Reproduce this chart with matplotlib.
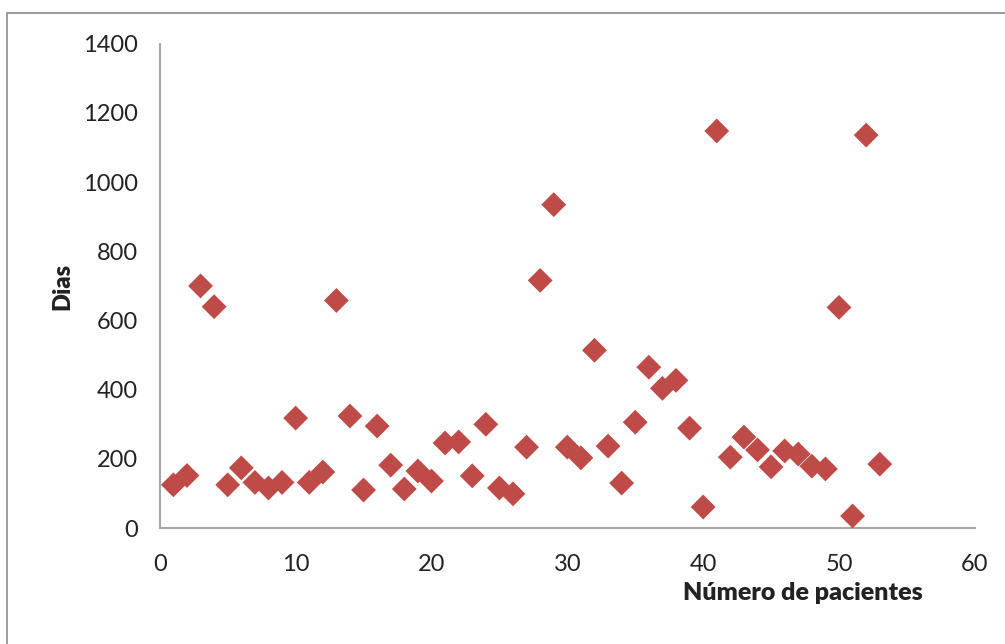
import matplotlib.pyplot as plt
from matplotlib.patches import Rectangle

plt.rcParams['font.family'] = ['Lato', 'DejaVu Sans']

# patient number and days
pacientes = list(range(1, 54))
dias = [125, 152, 700, 640, 125, 174, 132, 116, 132, 318,
        132, 162, 658, 324, 110, 295, 182, 113, 165, 136,
        246, 249, 151, 300, 116, 99, 234, 716, 935, 234,
        203, 514, 237, 130, 306, 465, 404, 427, 289, 61,
        1148, 205, 263, 226, 177, 223, 214, 179, 171, 638,
        35, 1136, 185]

fig = plt.figure(figsize=(10.05, 6.44), dpi=100)
ax = fig.add_axes([0.159, 0.180, 0.811, 0.752])

ax.scatter(pacientes, dias, marker='D', s=160, color='#BE4B48', edgecolors='none', zorder=3)

ax.set_xlim(0, 60)
ax.set_ylim(0, 1400)
ax.set_xticks(range(0, 61, 10))
ax.set_yticks(range(0, 1401, 200))
ax.tick_params(length=0, labelsize=17, colors='#222222')
ax.tick_params(axis='x', pad=19)
ax.tick_params(axis='y', pad=16)
for s in ['top', 'right']:
    ax.spines[s].set_visible(False)
for s in ['left', 'bottom']:
    ax.spines[s].set_color('#A6A6A6')
    ax.spines[s].set_linewidth(1.5)

fig.text(0.062, 0.555, 'Dias', rotation=90, ha='center', va='center',
         fontsize=17, fontweight='heavy', color='#222222')
fig.text(0.799, 0.079, 'Número de pacientes', ha='center', va='center',
         fontsize=18, fontweight='heavy', color='#222222')

# chart border
fig.patches.append(Rectangle((7 / 1005, -0.01), 1.0, 1 - 13 / 644 + 0.01,
                             transform=fig.transFigure, fill=False,
                             edgecolor='#8C8C8C', linewidth=1.2))

fig.savefig('out.png', dpi=100)
